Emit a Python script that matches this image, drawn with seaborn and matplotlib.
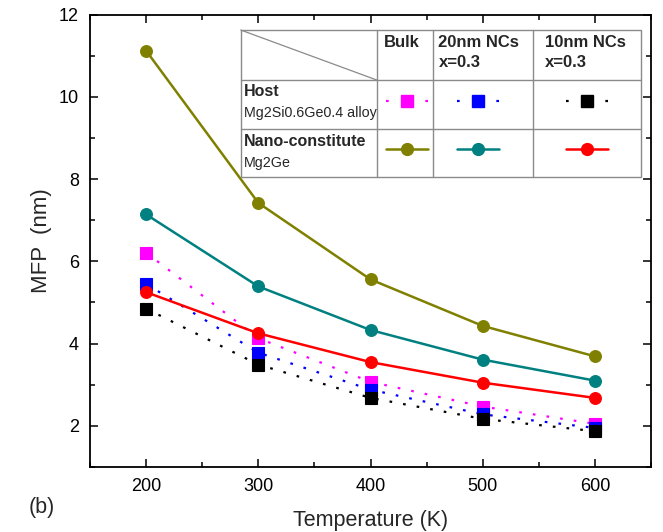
import numpy as np
import pandas as pd
import matplotlib
matplotlib.use("Agg")
import matplotlib.pyplot as plt
from matplotlib.lines import Line2D
from matplotlib.patches import Rectangle
from matplotlib.ticker import MultipleLocator
import seaborn as sns

# ---------------- data ----------------
temperature = [200, 300, 400, 500, 600]
nano_bulk = [11.12, 7.42, 5.56, 4.43, 3.69]
nano_20nm = [7.14, 5.39, 4.33, 3.61, 3.10]
nano_10nm = [5.25, 4.25, 3.55, 3.05, 2.68]
host_bulk = [6.21, 4.13, 3.07, 2.47, 2.05]
host_20nm = [5.45, 3.78, 2.88, 2.28, 1.95]
host_10nm = [4.85, 3.49, 2.68, 2.17, 1.87]

col_headers = ["Bulk", "20nm NCs\nx=0.3", "10nm NCs\nx=0.3"]
row_titles = ["Host", "Nano-constitute"]
row_subtitles = ["Mg2Si0.6Ge0.4 alloy", "Mg2Ge"]
xlabel = "Temperature (K)"
ylabel = "MFP  (nm)"
panel_label = "(b)"

# ---------------- style ----------------
sns.set_theme(style="ticks")
plt.rcParams["font.family"] = ["Liberation Sans", "DejaVu Sans"]

W, H = 663, 532
fig = plt.figure(figsize=(W / 100, H / 100), dpi=100)
ax = fig.add_axes([90 / W, 1 - 467 / H, (651 - 90) / W, (467 - 14.5) / H])

dot = (0, (1.2, 5))
host_series = [(host_bulk, "#ff00ff"), (host_20nm, "#0000ff"), (host_10nm, "#000000")]
nano_series = [(nano_bulk, "#808000"), (nano_20nm, "#008080"), (nano_10nm, "#ff0000")]

for vals, c in host_series:
    df = pd.DataFrame({"T": temperature, "MFP": vals})
    sns.lineplot(data=df, x="T", y="MFP", ax=ax, color=c, linestyle=dot, lw=1.6,
                 marker="s", markersize=8, markeredgecolor=c, markeredgewidth=0.8,
                 zorder=3)
for vals, c in nano_series:
    df = pd.DataFrame({"T": temperature, "MFP": vals})
    sns.lineplot(data=df, x="T", y="MFP", ax=ax, color=c, lw=1.8,
                 marker="o", markersize=8.5, markeredgecolor=c, markeredgewidth=0.8,
                 zorder=4)

ax.set_xlim(150, 650)
ax.set_ylim(1, 12)
ax.xaxis.set_major_locator(MultipleLocator(100))
ax.xaxis.set_minor_locator(MultipleLocator(50))
ax.yaxis.set_major_locator(MultipleLocator(2))
ax.yaxis.set_minor_locator(MultipleLocator(1))
ax.tick_params(which="both", direction="in", top=True, right=True,
               labelsize=13, width=1.1, colors="black")
ax.tick_params(which="major", length=6, pad=8)
ax.tick_params(which="minor", length=3.5)
for s in ax.spines.values():
    s.set_visible(True)
    s.set_linewidth(1.3)
    s.set_color("black")
ax.set_xlabel(xlabel, fontsize=15.5, labelpad=11)
ax.set_ylabel(ylabel, fontsize=16, labelpad=5)
ax.set_facecolor("white")
fig.patch.set_facecolor("white")

# ---------------- table legend (pixel-based layout) ----------------
def fx(px):
    return px / W

def fy(py):
    return 1 - py / H

tf = fig.transFigure
grid = "#8a8a8a"
L, R, T, B = 240.7, 640.7, 30, 176.5
colx = [L, 376.7, 432.7, 533.3, R]
rowy = [T, 80, 128.7, B]

fig.add_artist(Rectangle((fx(L), fy(B)), fx(R) - fx(L), fy(T) - fy(B), transform=tf,
                         facecolor="white", edgecolor=grid, lw=1.0, zorder=10))
for x in colx[1:-1]:
    fig.add_artist(Line2D([fx(x), fx(x)], [fy(T), fy(B)], transform=tf, color=grid, lw=1.0, zorder=11))
for y in rowy[1:-1]:
    fig.add_artist(Line2D([fx(L), fx(R)], [fy(y), fy(y)], transform=tf, color=grid, lw=1.0, zorder=11))
fig.add_artist(Line2D([fx(L), fx(colx[1])], [fy(T), fy(rowy[1])], transform=tf, color=grid, lw=0.9, zorder=11))

header_x = [383.5, 438.5, 545]
for hx, txt in zip(header_x, col_headers):
    fig.text(fx(hx), fy(35), txt, transform=tf, ha="left", va="top", fontsize=12,
             fontweight="bold", linespacing=1.4, zorder=12)

title_y = [92, 141]
sub_y = [113, 163]
for ty, sy, t1, t2 in zip(title_y, sub_y, row_titles, row_subtitles):
    fig.text(fx(243.5), fy(ty), t1, transform=tf, ha="left", va="center", fontsize=11.5,
             fontweight="bold", zorder=12)
    fig.text(fx(243.5), fy(sy), t2, transform=tf, ha="left", va="center", fontsize=10.3,
             zorder=12)

sample_cx = [407, 477.5, 587]
for cx, (_, c) in zip(sample_cx, host_series):
    fig.add_artist(Line2D([fx(cx - 21), fx(cx + 21)], [fy(100.5), fy(100.5)], transform=tf,
                          color=c, lw=1.6, linestyle=(0, (1.2, 16.5)), zorder=12))
    fig.add_artist(Line2D([fx(cx)], [fy(100.5)], transform=tf, color=c, marker="s",
                          markersize=8, markeredgecolor=c, zorder=13))
for cx, (_, c) in zip(sample_cx, nano_series):
    fig.add_artist(Line2D([fx(cx - 21), fx(cx + 21)], [fy(148.5), fy(148.5)], transform=tf,
                          color=c, lw=1.8, zorder=12))
    fig.add_artist(Line2D([fx(cx)], [fy(148.5)], transform=tf, color=c, marker="o",
                          markersize=8.5, markeredgecolor=c, zorder=13))

fig.text(fx(42), fy(508), panel_label, transform=tf, ha="center", va="center", fontsize=15.5)

fig.savefig("out.png", dpi=100, facecolor="white")
